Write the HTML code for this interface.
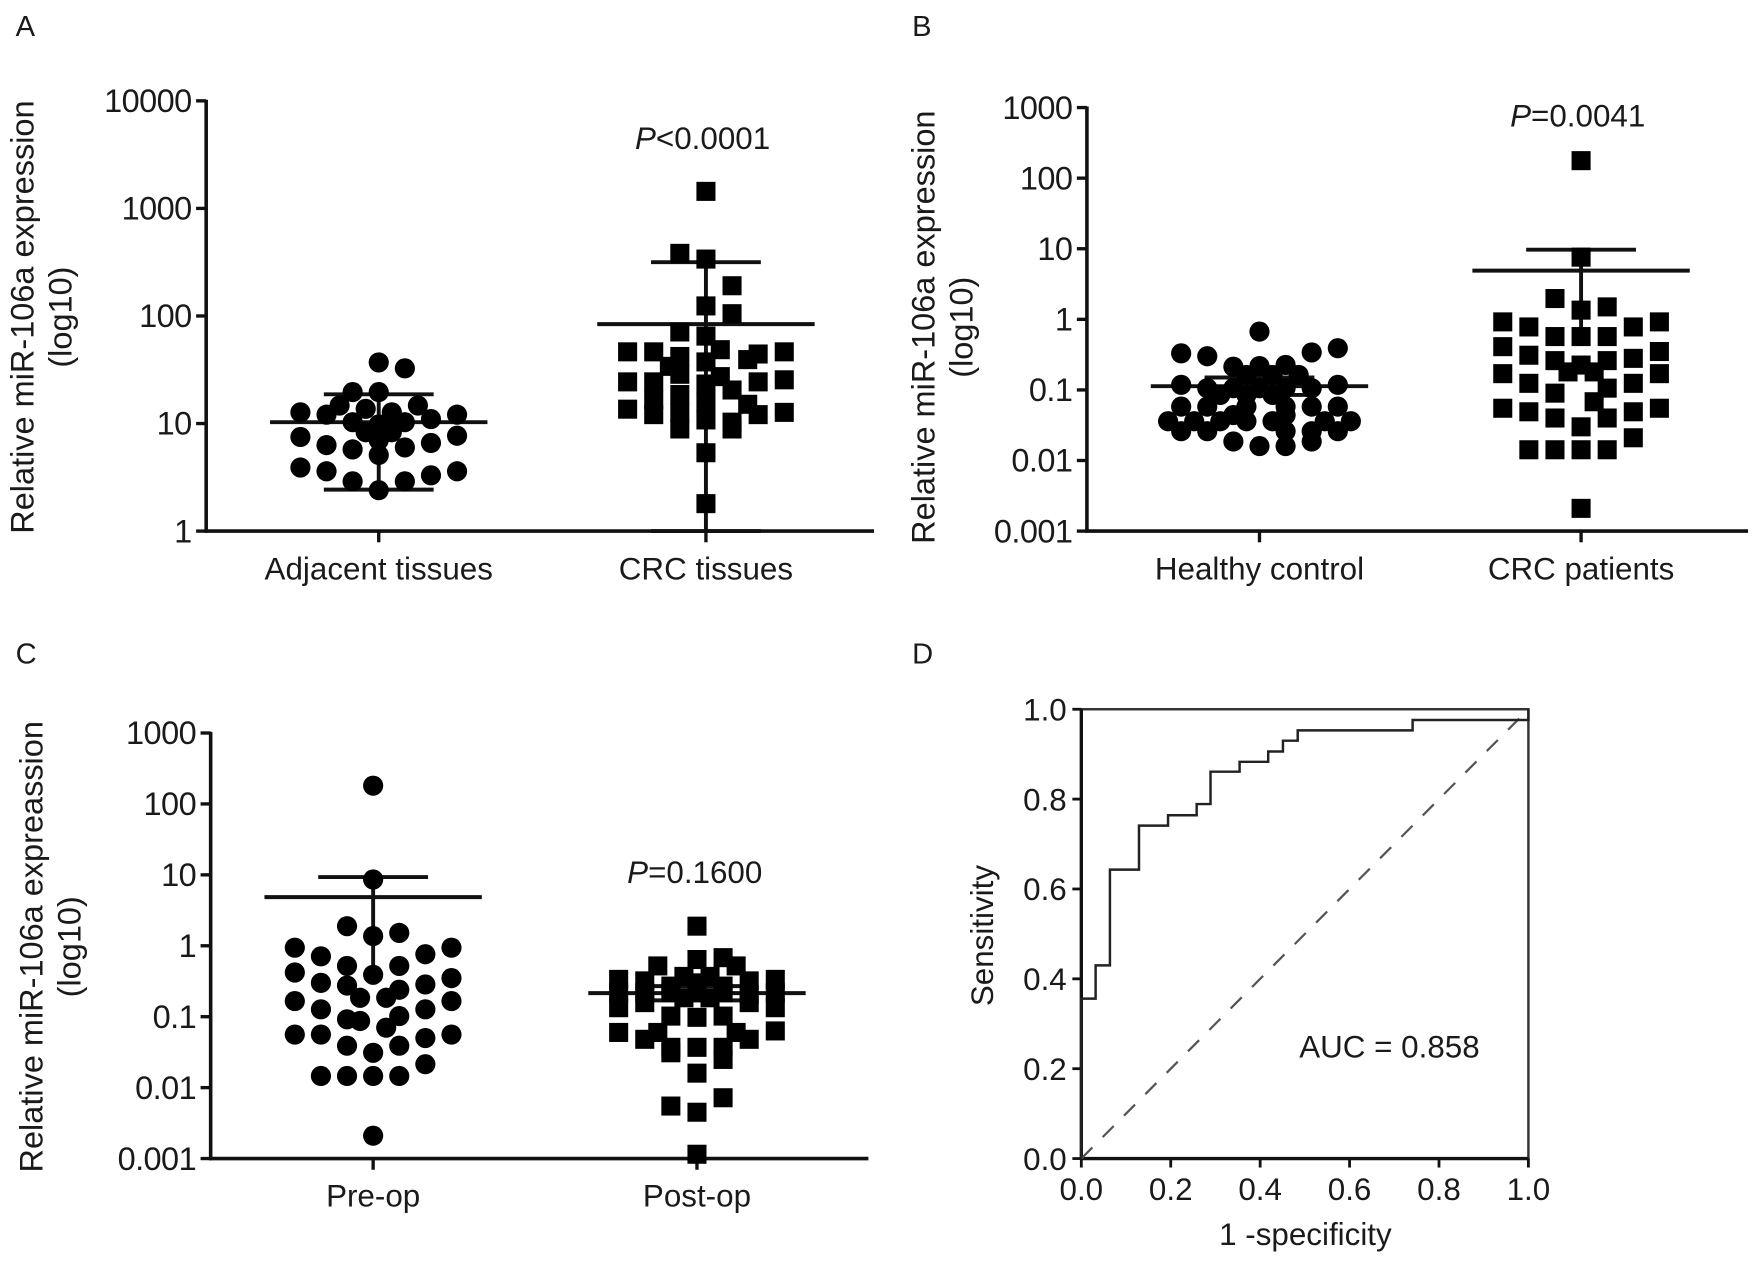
<!DOCTYPE html>
<html><head><meta charset="utf-8"><style>
html,body{margin:0;padding:0;background:#fff;}
svg{display:block;}
text{font-family:"Liberation Sans",Arial,sans-serif;fill:#1a1a1a;}
</style></head><body>
<svg id="fig" width="1757" height="1265" viewBox="0 0 1568 1129" preserveAspectRatio="none" xmlns="http://www.w3.org/2000/svg">
<rect x="0" y="0" width="1568" height="1129" fill="#fff"/>
<g id="root"></g>
</svg>
<script>
// ===== Panel A data =====
const aCats = ["Adjacent tissues", "CRC tissues"];
const aTicks = ["1","10","100","1000","10000"];
const aAdjVals = [37,32.6,19.6,19.6,14.7,13.7,14.7,12.7,12.1,12.7,11,12.1,10.3,9.8,10.3,8.3,8.3,7.5,7.7,6.3,6.6,7.0,5.75,6.0,5.1,3.9,3.6,3.6,3.3,2.9,2.9,2.4];
const aAdjCols = [0,1,-1,0,-1.5,-0.5,1.5,-3,-2,0.5,2,3,-1,0,1,-0.5,0.5,-3,3,-2,2,0,-1,1,0,-3,3,-2,2,-1,1,0];
const aCrcVals = [1440,382,338,191,124,105,71,65,46.4,46.4,42,48.6,44.3,46.4,34,37.4,39.3,28.7,27.3,24.4,24.4,23.3,24.4,25.5,18.6,20.5,16.5,15.8,13.6,15.1,12.1,12.7,12.1,12.7,10.8,10.3,8.9,8.9,5.35,1.8];
const aCrcCols = [0,-1,0,1,0,1,-1,0,-3,-2,-1,0.55,2,3,-1.4,0,1.6,-1,0.55,-3,-2,0,2,3,-1,1,-2,0,-3,1.6,-2,-1,2,3,0,1,-1,1,0,0];
const aMean = [10.3, 84];
const aSdHi = [18.7, 316];
const aSdLo = [2.43, 1];

// ===== Panel B data =====
const bCats = ["Healthy control", "CRC patients"];
const bTicks = ["0.001","0.01","0.1","1","10","100","1000"];
const bHcVals = [0.67,0.33,0.30,0.34,0.39,0.213,0.218,0.226,0.163,0.163,0.163,0.118,0.106,0.106,0.106,0.106,0.106,0.118,0.085,0.085,0.085,0.058,0.058,0.058,0.058,0.058,0.058,0.044,0.044,0.036,0.036,0.036,0.036,0.036,0.036,0.036,0.026,0.026,0.026,0.026,0.026,0.0186,0.0186,0.016,0.016];
const bHcCols = [0,-3,-2,2,3,-1,0,1,-0.5,0.5,1.5,-3,-2,-1,0,1,2,3,-0.5,0.5,-1.5,-3,-2,-0.5,1,2,3,-1,1,-3.5,-2.5,-1.5,-0.5,0.5,2.5,3.5,-3,-2,1,2,3,-1,2,0,1];
const bCrcVals = [177,7.6,1.97,1.5,1.35,0.92,0.92,0.78,0.78,0.57,0.57,0.57,0.41,0.35,0.31,0.28,0.26,0.26,0.225,0.18,0.18,0.17,0.17,0.124,0.124,0.09,0.106,0.068,0.055,0.055,0.049,0.049,0.04,0.04,0.030,0.021,0.0142,0.0142,0.0142,0.0142,0.0021];
const bCrcCols = [0,0,-1,1,0,-3,3,-2,2,-1,0,1,-3,3,-2,2,-1,1,0,-0.5,0.5,-3,3,-2,2,-1,1,0.5,-3,3,-2,2,-1,1,0,2,-2,-1,0,1,0];
const bMean = [0.113, 4.9];
const bSdHi = [0.15, 9.7];
const bSdLo = [0.085, 0.55];

// ===== Panel C data =====
const cCats = ["Pre-op", "Post-op"];
const cTicks = ["0.001","0.01","0.1","1","10","100","1000"];
const cPreVals = [181,8.6,1.89,1.52,1.37,0.94,0.94,0.71,0.76,0.52,0.52,0.39,0.42,0.35,0.30,0.285,0.275,0.24,0.185,0.185,0.166,0.166,0.127,0.127,0.092,0.102,0.087,0.07,0.056,0.056,0.056,0.05,0.039,0.039,0.031,0.0214,0.0146,0.0146,0.0146,0.0146,0.0021];
const cPreCols = [0,0,-1,1,0,-3,3,-2,2,-1,1,0,-3,3,-2,2,-1,1,-0.5,0.5,-3,3,-2,2,-1,1,-0.5,0.5,-3,3,-2,2,-1,1,0,2,-2,-1,0,1,0];
const cPostVals = [1.89,0.64,0.68,0.52,0.52,0.336,0.336,0.32,0.32,0.37,0.37,0.27,0.27,0.30,0.218,0.218,0.218,0.218,0.218,0.206,0.218,0.185,0.185,0.158,0.158,0.134,0.134,0.102,0.098,0.102,0.060,0.063,0.048,0.048,0.06,0.06,0.037,0.037,0.037,0.031,0.025,0.016,0.0072,0.0055,0.0045,0.00115];
const cPostCols = [0,0,1,-1.5,1.5,-3,3,-2,2,-0.5,0.5,-1,1,0,-3,-2,-1,0,1,2,3,-0.5,0.5,-2,2,-3,3,-1,0,1,-3,3,-2,2,-1.5,1.5,-1,0,1,-1,1,0,1,-1,0,0];
const cMean = [4.85, 0.215];
const cSdHi = [9.3, 0.27];
const cSdLo = [0.5, 0.17];

// ===== Panel D data (ROC) =====
const dXTicks = ["0.0","0.2","0.4","0.6","0.8","1.0"];
const dYTicks = ["0.0","0.2","0.4","0.6","0.8","1.0"];
const rocFpr = [0,0.032,0.064,0.129,0.194,0.258,0.289,0.354,0.418,0.451,0.484,0.741,1];
const rocTpr = [0.356,0.43,0.643,0.741,0.764,0.789,0.861,0.883,0.906,0.93,0.953,0.976,1];
const aucText = "AUC = 0.858";

const NS = "http://www.w3.org/2000/svg";
const root = document.getElementById('root');
function mk(tag, attrs, parent, txt){
  const e = document.createElementNS(NS, tag);
  for (const k in attrs) e.setAttribute(k, attrs[k]);
  if (txt !== undefined) e.textContent = txt;
  (parent||root).appendChild(e);
  return e;
}
function txt(x,y,s,size,anchor,parent,extra){
  const a = {x:x,y:y,'font-size':size,'text-anchor':anchor||'start'};
  if (extra) for (const k in extra) a[k]=extra[k];
  return mk('text',a,parent,s);
}

function scatterPanel(cfg){
  const g = mk('g',{});
  
  
  const ax = cfg.axisX, yB = cfg.yBottom, dec = cfg.decade, lmin = cfg.logMin;
  const yOf = v => yB - (Math.log10(v) - lmin) * dec;
  const colW = 23.3;
  const yAxis = mk('line',{x1:ax,y1:yOf(Math.pow(10,lmin+cfg.ticks.length-1))-1,x2:ax,y2:yB+1.5,stroke:'#111','stroke-width':3.2},g);
  
  
  const xAxis = mk('line',{x1:ax-1.5,y1:yB,x2:cfg.axisEnd,y2:yB,stroke:'#111','stroke-width':3.2},g);
  
  
  cfg.ticks.forEach((t,i)=>{
    const y = yOf(Math.pow(10,lmin+i));
    mk('line',{x1:ax-9,y1:y,x2:ax,y2:y,stroke:'#111','stroke-width':3},g);
    const tl = txt(ax-13,y+10,t,29,'end',g,{'letter-spacing':'-0.5'});
    
    
  });
  cfg.groups.forEach((grp,gi)=>{
    const cx = cfg.catX[gi];
    mk('line',{x1:cx,y1:yB,x2:cx,y2:yB+10,stroke:'#111','stroke-width':3},g);
    const cl = txt(cx,yB+43,cfg.cats[gi],28,'middle',g);
    
    
    const m = yOf(cfg.mean[gi]), hi = yOf(cfg.sdHi[gi]), lo = yOf(cfg.sdLo[gi]);
    mk('line',{x1:cx,y1:hi,x2:cx,y2:lo,stroke:'#111','stroke-width':3.5},g);
    mk('line',{x1:cx-49,y1:hi,x2:cx+49,y2:hi,stroke:'#111','stroke-width':3.5},g);
    if (cfg.lowCap[gi]) mk('line',{x1:cx-49,y1:lo,x2:cx+49,y2:lo,stroke:'#111','stroke-width':3.5},g);
    const ml = mk('line',{x1:cx-97,y1:m,x2:cx+97,y2:m,stroke:'#111','stroke-width':3.5},g);
    
    
    grp.vals.forEach((v,i)=>{
      const x = cx + grp.cols[i]*colW, y = yOf(v);
      let p;
      if (grp.shape==='circle') p = mk('circle',{cx:x,cy:y,r:9,fill:'#000'},g);
      else p = mk('rect',{x:x-8.5,y:y-8.5,width:17,height:17,fill:'#000'},g);
      
      
    });
  });
  const pt = mk('text',{x:cfg.pX,y:cfg.pY,'font-size':28,'text-anchor':'middle'},g);
  
  
  mk('tspan',{'font-style':'italic'},pt,'P');
  mk('tspan',{},pt,cfg.pText);
  const t1 = txt(0,0,cfg.yTitle,29,'middle',g,{transform:`translate(${cfg.yTitleX},${cfg.yTitleY}) rotate(-90)`});
  
  
  const t2 = txt(0,0,'(log10)',29,'middle',g,{transform:`translate(${cfg.yTitleX+34},${cfg.yTitleY}) rotate(-90)`});
  
  
  const L = txt(cfg.letterX,cfg.letterY,cfg.letter,26,'start',g);
  
  
}

scatterPanel({name:'panel-a',axisX:184,axisEnd:780,yBottom:474,decade:96,logMin:0,ticks:aTicks,
  catX:[338,630],cats:aCats,mean:aMean,sdHi:aSdHi,sdLo:aSdLo,lowCap:[true,true],
  groups:[{vals:aAdjVals,cols:aAdjCols,shape:'circle'},{vals:aCrcVals,cols:aCrcCols,shape:'square'}],
  pX:627,pY:133,pText:'<0.0001',yTitle:'Relative miR-106a expression',yTitleX:30,yTitleY:283,letter:'A',letterX:14,letterY:32});

scatterPanel({name:'panel-b',axisX:970,axisEnd:1560,yBottom:474,decade:63,logMin:-3,ticks:bTicks,
  catX:[1124,1411],cats:bCats,mean:bMean,sdHi:bSdHi,sdLo:bSdLo,lowCap:[true,false],
  groups:[{vals:bHcVals,cols:bHcCols,shape:'circle'},{vals:bCrcVals,cols:bCrcCols,shape:'square'}],
  pX:1408,pY:113,pText:'=0.0041',yTitle:'Relative miR-106a expression',yTitleX:834,yTitleY:292,letter:'B',letterX:814,letterY:32});

scatterPanel({name:'panel-c',axisX:188,axisEnd:775,yBottom:1034,decade:63.3,logMin:-3,ticks:cTicks,
  catX:[333,622],cats:cCats,mean:cMean,sdHi:cSdHi,sdLo:cSdLo,lowCap:[false,true],
  groups:[{vals:cPreVals,cols:cPreCols,shape:'circle'},{vals:cPostVals,cols:cPostCols,shape:'square'}],
  pX:620,pY:788,pText:'=0.1600',yTitle:'Relative miR-106a expreassion',yTitleX:38,yTitleY:845,letter:'C',letterX:14,letterY:592});

// ===== Panel D =====
(function(){
  const g = mk('g',{});
  
  
  const x0=965,x1=1364,y0=1034,y1=633;
  const xs = v => x0 + v*(x1-x0), ys = v => y0 - v*(y0-y1);
  const fr = mk('rect',{x:x0,y:y1,width:x1-x0,height:y0-y1,fill:'none',stroke:'#333','stroke-width':2.2},g);
  
  
  mk('line',{x1:x0,y1:y1,x2:x0,y2:y0+1,stroke:'#111','stroke-width':3},g);
  mk('line',{x1:x0,y1:y0,x2:x1,y2:y0,stroke:'#111','stroke-width':3},g);
  dXTicks.forEach((t,i)=>{
    const v=i/(dXTicks.length-1), x=xs(v);
    mk('line',{x1:x,y1:y0,x2:x,y2:y0+8,stroke:'#111','stroke-width':2.5},g);
    const l=txt(x,y0+37,t,28,'middle',g);
    
    
  });
  dYTicks.forEach((t,i)=>{
    const v=i/(dYTicks.length-1), y=ys(v);
    mk('line',{x1:x0-8,y1:y,x2:x0,y2:y,stroke:'#111','stroke-width':2.5},g);
    const l=txt(x0-13,y+10,t,28,'end',g);
    
    
  });
  const diag = mk('line',{x1:xs(0),y1:ys(0),x2:xs(1),y2:ys(1),stroke:'#555','stroke-width':2,'stroke-dasharray':'14 13'},g);
  
  
  let d = `M${xs(0)},${ys(0)}`, prev = 0;
  rocFpr.forEach((f,i)=>{
    d += ` L${xs(f)},${ys(prev)} L${xs(f)},${ys(rocTpr[i])}`;
    prev = rocTpr[i];
  });
  d += ` L${xs(1)},${ys(1)}`;
  const roc = mk('path',{d:d,fill:'none',stroke:'#222','stroke-width':2.2},g);
  
  
  const auc = txt(1240,944,aucText,28,'middle',g);
  
  
  const xt = txt(1165,1111,'1 -specificity',28,'middle',g);
  
  
  const yt = txt(0,0,'Sensitivity',28,'middle',g,{transform:'translate(886,835) rotate(-90)'});
  
  
  const L = txt(814,592,'D',26,'start',g);
  
  
})();
</script>
</body></html>
